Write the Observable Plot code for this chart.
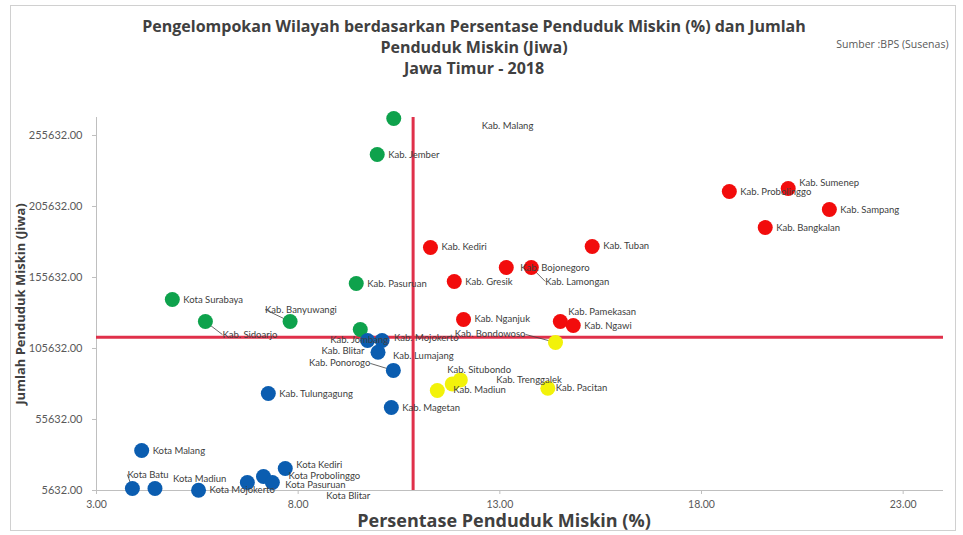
<!DOCTYPE html>
<html><head><meta charset="utf-8">
<script src="https://cdn.jsdelivr.net/npm/d3@7"></script>
<script src="https://cdn.jsdelivr.net/npm/@observablehq/plot@0.6"></script>
<style>
html,body{margin:0;padding:0;background:#fff;}
#wrap{position:relative;width:963px;height:535px;}
#border{position:absolute;left:10px;top:5px;width:944px;height:524px;border:1px solid #d0d0d0;pointer-events:none;}
svg{font-family:Lato,"Open Sans",sans-serif;}
</style></head>
<body><div id="wrap"><div id="border"></div></div>
<script>
// ---- data ----
const names = ["Kab. Malang","Kab. Jember","Kab. Pasuruan","Kota Surabaya","Kab. Sidoarjo","Kab. Banyuwangi","Kab. Jombang",
  "Kab. Kediri","Kab. Tuban","Kab. Bojonegoro","Kab. Lamongan","Kab. Gresik","Kab. Probolinggo","Kab. Sumenep","Kab. Sampang","Kab. Bangkalan","Kab. Nganjuk","Kab. Pamekasan","Kab. Ngawi",
  "Kab. Bondowoso","Kab. Situbondo","Kab. Trenggalek","Kab. Madiun","Kab. Pacitan",
  "Kab. Mojokerto","Kab. Lumajang","Kab. Blitar","Kab. Ponorogo","Kab. Magetan","Kab. Tulungagung","Kota Malang","Kota Batu","Kota Madiun","Kota Mojokerto","Kota Kediri","Kota Probolinggo","Kota Pasuruan","Kota Blitar"];
const persen = [10.37,9.96,9.44,4.88,5.70,7.80,9.54,
  11.28,15.29,13.16,13.78,11.87,18.69,20.15,21.17,19.58,12.10,14.50,14.82,
  14.38,11.82,12.02,11.45,14.19,
  10.08,9.98,9.72,10.36,10.31,7.26,4.12,3.89,4.45,5.53,7.68,7.14,6.74,7.36];
const jiwa = [267600,242200,151400,140100,124600,124600,119000,
  176800,177500,162700,162700,152800,216200,218300,203500,190800,126100,124600,121800,
  109900,80600,83500,76100,77600,
  111300,103000,111300,90200,64100,73900,33800,7000,7000,5800,21100,15500,11300,11300];
const kelompok = [].concat(Array(7).fill("Hijau"), Array(12).fill("Merah"), Array(5).fill("Kuning"), Array(14).fill("Biru"));
const rataPersen = 10.85;
const rataJiwa = 113500;
const xTicks = [3, 8, 13, 18, 23];
const yTicks = [5632, 55632, 105632, 155632, 205632, 255632];
const judul = ["Pengelompokan Wilayah berdasarkan Persentase Penduduk Miskin (%) dan Jumlah", "Penduduk Miskin (Jiwa)", "Jawa Timur - 2018"];
const sumber = "Sumber :BPS (Susenas)";
const labelX = "Persentase Penduduk Miskin (%)";
const labelY = "Jumlah Penduduk Miskin (Jiwa)";

// ---- layout (label nudges in pixels: [dx, dy, anchor]) ----
const nudge = {
  "Kab. Malang":[88,7,"start"], "Kab. Sidoarjo":[17,13,"start"], "Kab. Banyuwangi":[-25,-12,"start"],
  "Kab. Jombang":[-30,10,"start"], "Kab. Bojonegoro":[14,0,"start"], "Kab. Lamongan":[14,14,"start"],
  "Kab. Sumenep":[11,-6,"start"], "Kab. Pamekasan":[8,-10,"start"],
  "Kab. Bondowoso":[-30,-8,"end"], "Kab. Situbondo":[-5,-14,"start"], "Kab. Trenggalek":[36,0,"start"],
  "Kab. Madiun":[16,0,"start"], "Kab. Pacitan":[8,0,"start"], "Kab. Lumajang":[15,4,"start"],
  "Kab. Blitar":[-3,11,"end"], "Kab. Ponorogo":[-23,-7,"end"], "Kota Batu":[-5,-14,"start"],
  "Kota Madiun":[18,-10,"start"], "Kota Kediri":[11,-4,"start"], "Kota Probolinggo":[25,-1,"start"],
  "Kota Pasuruan":[38,3,"start"], "Kota Blitar":[54,14,"start"], "Kab. Mojokerto":[12,-2,"start"]
};
const leaders = ["Kab. Banyuwangi","Kab. Sidoarjo","Kab. Bondowoso","Kab. Lamongan","Kota Batu","Kab. Ponorogo"];

const W = 963, H = 535, ML = 96, MR = 20, MT = 117, MB = 45;
const xDom = [3, 24], yDom = [5632, 268300];
const pxX = (W - ML - MR) / (xDom[1] - xDom[0]);
const pxY = (H - MT - MB) / (yDom[1] - yDom[0]);

const data = names.map((n, i) => ({nama: n, persen: persen[i], jiwa: jiwa[i], kelompok: kelompok[i]}));
const nd = d => nudge[d.nama] || [11, 0, "start"];
const lx = d => d.persen + nd(d)[0] / pxX;
const ly = d => d.jiwa - nd(d)[1] / pxY;

const fmt = d3.format(".2f");
const titleFont = "'Open Sans', Lato, sans-serif";
const titleDy = [-91, -70, -49];
const plot = Plot.plot({
  width: W, height: H, marginLeft: ML, marginRight: MR, marginTop: MT, marginBottom: MB,
  style: {fontFamily: "Lato, 'Open Sans', sans-serif", background: "transparent"},
  x: {domain: xDom, label: null},
  y: {domain: yDom, label: null},
  color: {domain: ["Hijau","Merah","Kuning","Biru"], range: ["#0ea24c","#f20c0c","#f2f20a","#0b5db0"]},
  marks: [
    Plot.ruleY([yDom[0]], {stroke: "#bfbfbf"}),
    Plot.ruleX([xDom[0]], {stroke: "#bfbfbf"}),
    Plot.axisX({ticks: xTicks, tickFormat: fmt, tickSize: 4, tickPadding: 6, stroke: "#bfbfbf", fill: "#595959", fontSize: 10.5, label: null}),
    Plot.axisY({ticks: yTicks, tickFormat: fmt, tickSize: 4, tickPadding: 10, stroke: "#bfbfbf", fill: "#595959", fontSize: 11, label: null}),
    Plot.ruleX([rataPersen], {stroke: "#e0304a", strokeWidth: 3}),
    Plot.ruleY([rataJiwa], {stroke: "#e0304a", strokeWidth: 3}),
    Plot.link(data.filter(d => leaders.includes(d.nama)), {x1: "persen", y1: "jiwa", x2: lx, y2: ly, stroke: "#404040", strokeWidth: 0.8}),
    Plot.dot(data, {x: "persen", y: "jiwa", fill: "kelompok", r: 7.5}),
    Plot.text(data.filter(d => nd(d)[2] === "start"), {x: lx, y: ly, text: "nama", textAnchor: "start", fontSize: 9.5, fill: "#404040"}),
    Plot.text(data.filter(d => nd(d)[2] === "end"), {x: lx, y: ly, text: "nama", textAnchor: "end", fontSize: 9.5, fill: "#404040"}),
    ...judul.map((t, i) => Plot.text([t], {frameAnchor: "top", dx: -46, dy: titleDy[i], lineAnchor: "middle", text: d => d, fontSize: 16, fontWeight: "bold", fontFamily: titleFont, fill: "#404040"})),
    Plot.text([labelX], {frameAnchor: "bottom", dx: -16, dy: 31, lineAnchor: "middle", text: d => d, fontSize: 18, fontWeight: "bold", fontFamily: titleFont, fill: "#404040"}),
    Plot.text([labelY], {frameAnchor: "left", dx: -76, rotate: -90, textAnchor: "middle", lineAnchor: "middle", text: d => d, fontSize: 13, fontWeight: "bold", fontFamily: titleFont, fill: "#404040"}),
    Plot.text([sumber], {frameAnchor: "top-right", dx: 5, dy: -73, textAnchor: "end", lineAnchor: "middle", text: d => d, fontSize: 10.5, fontFamily: titleFont, fill: "#595959"})
  ]
});
document.getElementById("wrap").appendChild(plot);
</script></body></html>
